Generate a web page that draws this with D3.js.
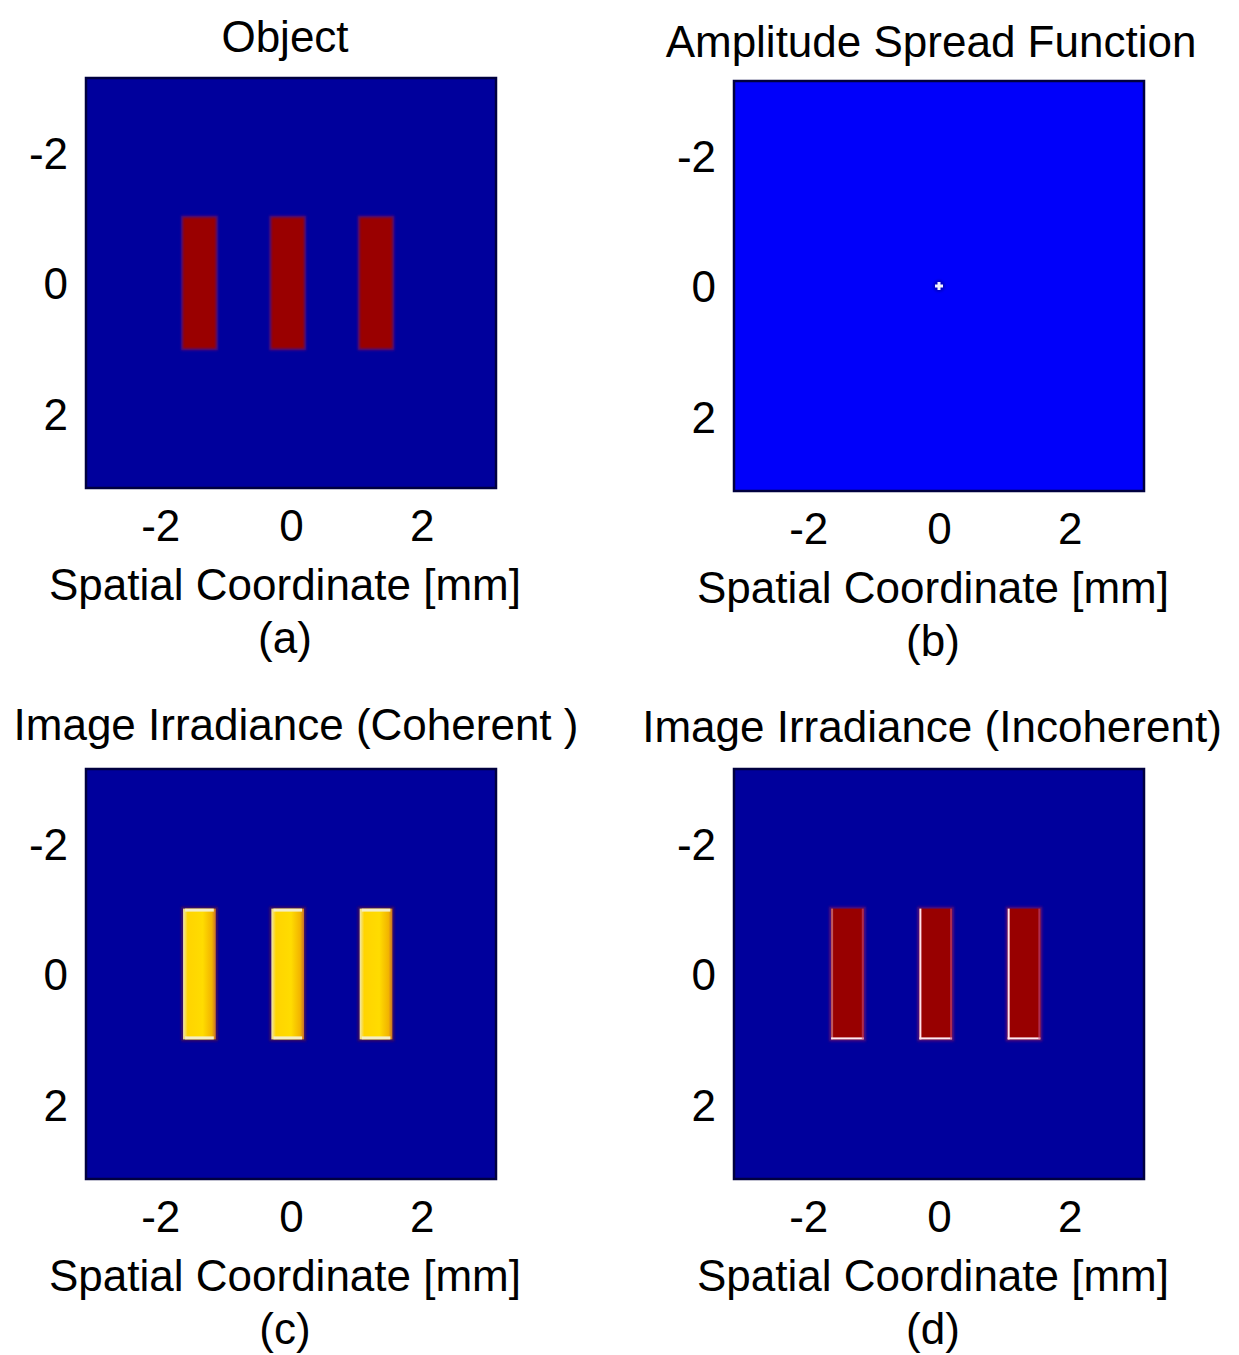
<!DOCTYPE html>
<meta charset="UTF-8">
<script src="https://d3js.org/d3.v7.min.js"></script>
<style>
body { margin: 0; background: #fff; }
text { font-family: "Liberation Sans", Arial, sans-serif; fill: #000; }
</style>
<div id="chart"></div>
<script>

// data (units: mm)
var slitCenters = [-1.4, -0.05, 1.3]
var slitWidth = 0.5
var slitHalfHeight = 1
var axisExtent = [-3.15, 3.15]
var tickValues = [-2, 0, 2]
var titles = ["Object", "Amplitude Spread Function", "Image Irradiance (Coherent )", "Image Irradiance (Incoherent)"]
var letters = ["(a)", "(b)", "(c)", "(d)"]
var xLabel = "Spatial Coordinate [mm]"

var width = 1239, height = 1355, size = 412

var svg = d3.select("#chart").append("svg")
    .attr("width", width)
    .attr("height", height)

var defs = svg.append("defs")
defs.append("filter").attr("id", "soft")
    .attr("x", "-20%").attr("y", "-20%").attr("width", "140%").attr("height", "140%")
  .append("feGaussianBlur").attr("stdDeviation", 1.3)

var yellow = defs.append("linearGradient").attr("id", "yellow")
yellow.append("stop").attr("offset", "0%").attr("stop-color", "#efe7b0")
yellow.append("stop").attr("offset", "14%").attr("stop-color", "#ffd400")
yellow.append("stop").attr("offset", "60%").attr("stop-color", "#ffdc00")
yellow.append("stop").attr("offset", "88%").attr("stop-color", "#f2b400")
yellow.append("stop").attr("offset", "100%").attr("stop-color", "#c8702a")

// hyphen minus, like the original figure
var fmt = function(d){ return String(d) }

// panel layout
var panels = [
  {left: 85,  top: 77,  bg: "#00009c", kind: "object",   titleY: 52,  titleX: 285},
  {left: 733, top: 80,  bg: "#0000fa", kind: "psf",      titleY: 57,  titleX: 931},
  {left: 85,  top: 768, bg: "#00009c", kind: "coherent", titleY: 740, titleX: 296},
  {left: 733, top: 768, bg: "#00009c", kind: "incoh",    titleY: 742, titleX: 932}
]

panels.forEach(function(p, i) {
  var x = d3.scaleLinear().domain(axisExtent).range([0, size])
  var y = d3.scaleLinear().domain(axisExtent).range([0, size])   // image axis: -2 at top

  var g = svg.append("g").attr("transform", "translate(" + p.left + "," + p.top + ")")

  g.append("rect")
      .attr("width", size).attr("height", size)
      .attr("fill", p.bg)

  if (p.kind === "psf") {
    g.append("circle")
        .attr("cx", x(0)).attr("cy", y(0)).attr("r", 6)
        .attr("fill", "#0000c8").attr("filter", "url(#soft)")
    g.append("rect").attr("x", x(0) - 4).attr("y", y(0) - 1.5).attr("width", 8).attr("height", 3).attr("fill", "#f0f0ff")
    g.append("rect").attr("x", x(0) - 1.5).attr("y", y(0) - 4).attr("width", 3).attr("height", 8).attr("fill", "#f0f0ff")
  } else {
    var bars = g.append("g").selectAll("g")
        .data(slitCenters)
        .enter().append("g")

    var fill = p.kind === "coherent" ? "url(#yellow)" : (p.kind === "incoh" ? "#980000" : "#9a0000")

    // soft halo around each slit
    bars.append("rect")
        .attr("x", function(d){ return x(d - slitWidth / 2) - 2 })
        .attr("y", y(-slitHalfHeight) - 2)
        .attr("width", x(slitWidth) - x(0) + 4)
        .attr("height", y(slitHalfHeight) - y(-slitHalfHeight) + 4)
        .attr("fill", p.kind === "coherent" ? "#3a1060" : "#50107a")
        .attr("filter", "url(#soft)")

    bars.append("rect")
        .attr("x", function(d){ return x(d - slitWidth / 2) })
        .attr("y", y(-slitHalfHeight))
        .attr("width", x(slitWidth) - x(0))
        .attr("height", y(slitHalfHeight) - y(-slitHalfHeight))
        .attr("fill", fill)
        .attr("filter", p.kind === "object" ? "url(#soft)" : null)

    if (p.kind === "coherent") {
      bars.append("rect")
          .attr("x", function(d){ return x(d - slitWidth / 2) + 2 })
          .attr("y", y(-slitHalfHeight))
          .attr("width", x(slitWidth) - x(0) - 4).attr("height", 3)
          .attr("fill", "#f4eec8")
      bars.append("rect")
          .attr("x", function(d){ return x(d - slitWidth / 2) + 2 })
          .attr("y", y(slitHalfHeight) - 3)
          .attr("width", x(slitWidth) - x(0) - 4).attr("height", 3)
          .attr("fill", "#f4eec8")
    }
    if (p.kind === "incoh") {
      bars.append("rect")
          .attr("x", function(d){ return x(d - slitWidth / 2) })
          .attr("y", y(slitHalfHeight) - 2)
          .attr("width", x(slitWidth) - x(0)).attr("height", 2)
          .attr("fill", "#ffe8f0")
      bars.append("rect")
          .attr("x", function(d){ return x(d - slitWidth / 2) })
          .attr("y", y(-slitHalfHeight))
          .attr("width", 2)
          .attr("height", y(slitHalfHeight) - y(-slitHalfHeight))
          .attr("fill", "#ffe0ea")
          .attr("opacity", function(d, j){ return j === 0 ? 0.4 : 1 })
      bars.append("rect")
          .attr("x", function(d){ return x(d + slitWidth / 2) - 2 })
          .attr("y", y(-slitHalfHeight))
          .attr("width", 2)
          .attr("height", y(slitHalfHeight) - y(-slitHalfHeight))
          .attr("fill", "#c04a80")
          .attr("opacity", 0.6)
    }
  }

  // dark frame of the image
  g.append("rect")
      .attr("x", 1).attr("y", 1)
      .attr("width", size - 2).attr("height", size - 2)
      .attr("fill", "none")
      .attr("stroke", "#000040")
      .attr("stroke-width", 2.5)

  // axes: tick labels only, as in the figure
  var xAxis = g.append("g").attr("transform", "translate(0," + size + ")")
      .call(d3.axisBottom(x).tickValues(tickValues).tickSize(0).tickPadding(0).tickFormat(fmt))
  xAxis.select(".domain").remove()
  xAxis.selectAll("text")
      .attr("y", 52).attr("dy", null)
      .style("font-size", "44px")
      .style("font-family", "'Liberation Sans', Arial, sans-serif")

  var yAxis = g.append("g")
      .call(d3.axisLeft(y).tickValues(tickValues).tickSize(0).tickPadding(17).tickFormat(fmt))
  yAxis.select(".domain").remove()
  yAxis.selectAll("text")
      .attr("dy", "0.36em")
      .style("font-size", "44px")
      .style("font-family", "'Liberation Sans', Arial, sans-serif")

  g.append("text")
      .attr("x", size / 2 - 6).attr("y", size + 111)
      .attr("text-anchor", "middle")
      .style("font-size", "44px")
      .text(xLabel)

  g.append("text")
      .attr("x", size / 2 - 6).attr("y", size + 164)
      .attr("text-anchor", "middle")
      .style("font-size", "44px")
      .text(letters[i])

  svg.append("text")
      .attr("x", p.titleX).attr("y", p.titleY)
      .attr("text-anchor", "middle")
      .style("font-size", "44px")
      .text(titles[i])
})

</script>
